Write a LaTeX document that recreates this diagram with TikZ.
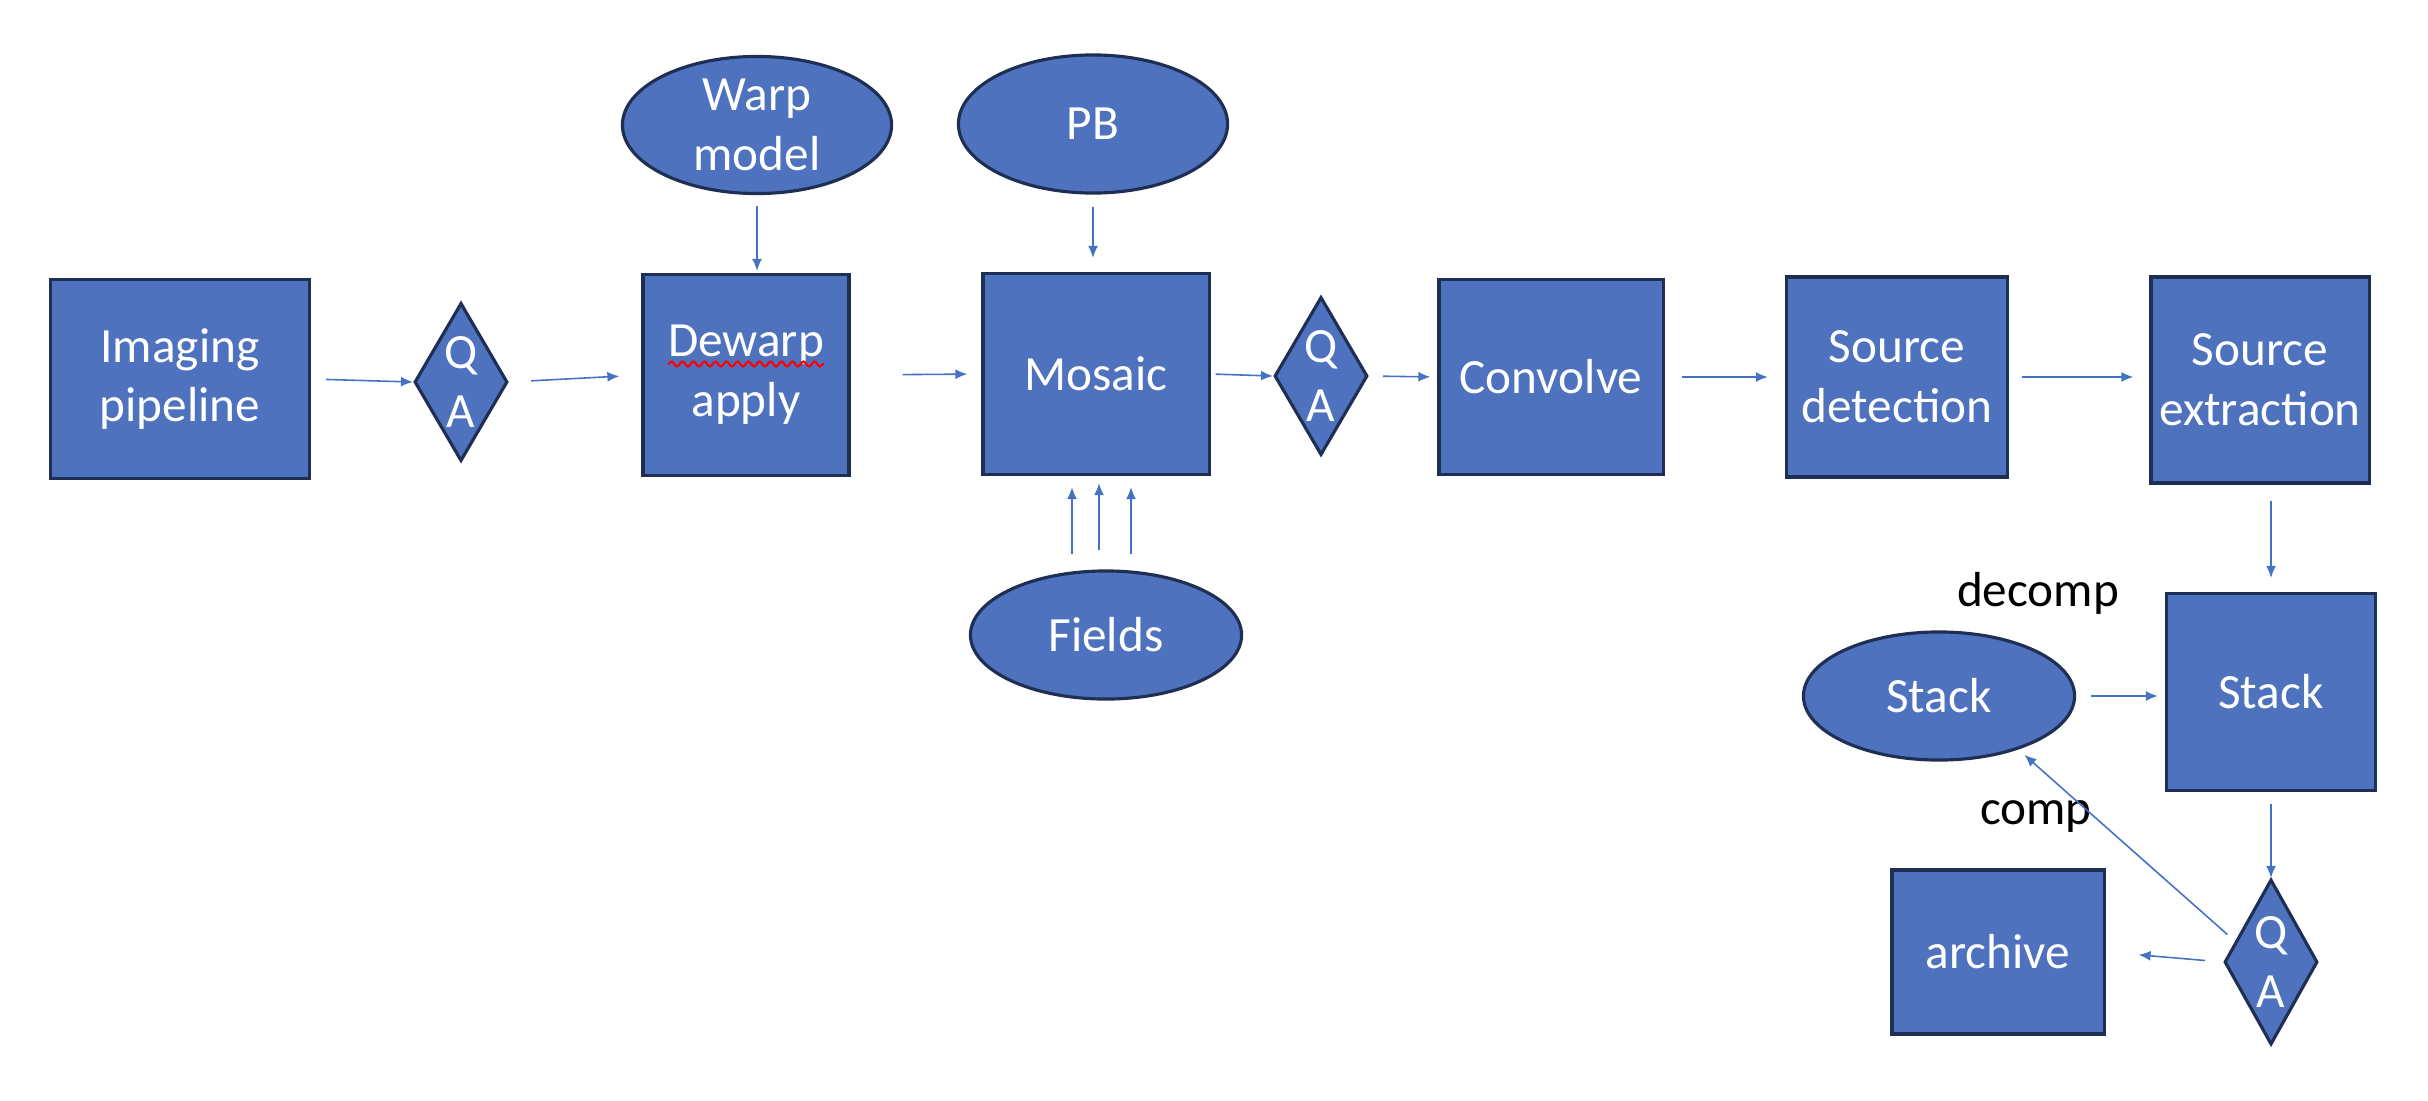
\documentclass[tikz,border=0pt]{standalone}
\usepackage{fontspec}
\setmainfont{Carlito}
\usetikzlibrary{shapes.geometric,arrows.meta,decorations.pathmorphing,calc}
\definecolor{boxblue}{RGB}{79,114,190}
\definecolor{boxedge}{RGB}{31,47,84}
\definecolor{flowblue}{RGB}{68,114,196}
\begin{document}
\begin{tikzpicture}[x=0.01cm,y=-0.01cm,font=\fontsize{14}{17}\selectfont,
		box/.style={rectangle,draw=boxedge,fill=boxblue,line width=0.9pt,text=white,align=center,inner sep=0mm},
		qa/.style={diamond,draw=boxedge,fill=boxblue,line width=0.9pt,text=white,align=center,inner sep=0mm,aspect=0.59,minimum width=0.93cm,minimum height=1.58cm},
		data/.style={ellipse,draw=boxedge,fill=boxblue,line width=0.9pt,text=white,align=center,inner sep=0mm},
		flow/.style={draw=flowblue,line width=0.45pt,-{Latex[length=0.12cm,width=0.1cm]}},
		note/.style={text=black}]
	\useasboundingbox (0,0) rectangle (2428,1100);

	% main row
	\node[box,minimum width=2.59cm,minimum height=1.99cm] (img) at (180,379) {Imaging\\pipeline};
	\node[qa] (qa1) at (461,382) {Q\\A};
	\node[box,minimum width=2.06cm,minimum height=2.01cm] (dewarp) at (746,375) {Dewarp\\apply};
	\node[box,minimum width=2.26cm,minimum height=2.01cm] (mosaic) at (1096,374) {Mosaic};
	\node[qa] (qa2) at (1321,376) {Q\\A};
	\node[box,minimum width=2.24cm,minimum height=1.95cm] (convolve) at (1551,377) {Convolve};
	\node[box,minimum width=2.21cm,minimum height=2.00cm] (srcdet) at (1897,377) {Source\\detection};
	\node[box,minimum width=2.18cm,minimum height=2.06cm] (srcext) at (2260,380) {Source\\extraction};

	% inputs
	\node[data,minimum width=2.69cm,minimum height=1.37cm] (warp) at (757,125) {Warp\\model};
	\node[data,minimum width=2.69cm,minimum height=1.38cm] (pb) at (1093,124) {PB};
	\node[data,minimum width=2.71cm,minimum height=1.28cm] (fields) at (1106,635) {Fields};

	% stacking
	\node[box,minimum width=2.09cm,minimum height=1.97cm] (stack) at (2271,692) {Stack};
	\node[data,minimum width=2.71cm,minimum height=1.28cm] (stackdata) at (1939,696) {Stack};
	\node[box,minimum width=2.12cm,minimum height=1.64cm] (archive) at (1998,952) {archive};
	\node[qa,minimum height=1.65cm] (qa3) at (2271,962) {Q\\A};
	\node[note] (decomp) at (2038,593) {decomp};
	\node[note] (comp) at (2036,816) {comp};

	\draw[red,line width=0.6pt,decorate,decoration={snake,segment length=0.11cm,amplitude=0.025cm}]
		($(dewarp.center)+(-78,-11)$) -- ($(dewarp.center)+(78,-11)$);

	\draw[flow,shorten <=0.15cm] (img.east) -- (qa1.west);
	\draw[flow,shorten <=0.22cm,shorten >=0.22cm] (qa1.east) -- (dewarp.west);
	\draw[flow,shorten <=0.52cm,shorten >=0.14cm] (dewarp.east) -- (mosaic.west);
	\draw[flow,shorten <=0.05cm] (mosaic.east) -- (qa2.west);
	\draw[flow,shorten <=0.14cm,shorten >=0.07cm] (qa2.east) -- (convolve.west);
	\draw[flow,shorten <=0.17cm,shorten >=0.17cm] (convolve.east) -- (srcdet.west);
	\draw[flow,shorten <=0.13cm,shorten >=0.16cm] (srcdet.east) -- (srcdet.east -| srcext.west);
	\draw[flow,shorten <=0.16cm,shorten >=0.14cm] (stack.north |- srcext.south) -- (stack.north);
	\draw[flow,shorten <=0.15cm,shorten >=0.07cm] (stackdata.east) -- (stackdata.east -| stack.west);
	\draw[flow,shorten <=0.12cm] (stack.south) -- (qa3.north);
	\draw[flow,shorten <=0.10cm,shorten >=0.08cm] (qa3.150) -- (stackdata.-34);
	\draw[flow,shorten <=0.18cm,shorten >=0.33cm] (qa3.west) -- (archive.east);

	\draw[flow,shorten <=0.11cm,shorten >=0.02cm] (warp.south) -- (warp.south |- dewarp.north);
	\draw[flow,shorten <=0.12cm,shorten >=0.14cm] (pb.south) -- (pb.south |- mosaic.north);
	\draw[flow,shorten <=0.15cm,shorten >=0.11cm] ([xshift=-0.34cm]fields.north) -- ([xshift=-0.34cm]fields.north |- mosaic.south);
	\draw[flow,shorten <=0.19cm,shorten >=0.07cm] ([xshift=-0.07cm]fields.north) -- ([xshift=-0.07cm]fields.north |- mosaic.south);
	\draw[flow,shorten <=0.15cm,shorten >=0.11cm] ([xshift=0.25cm]fields.north) -- ([xshift=0.25cm]fields.north |- mosaic.south);
\end{tikzpicture}
\end{document}
